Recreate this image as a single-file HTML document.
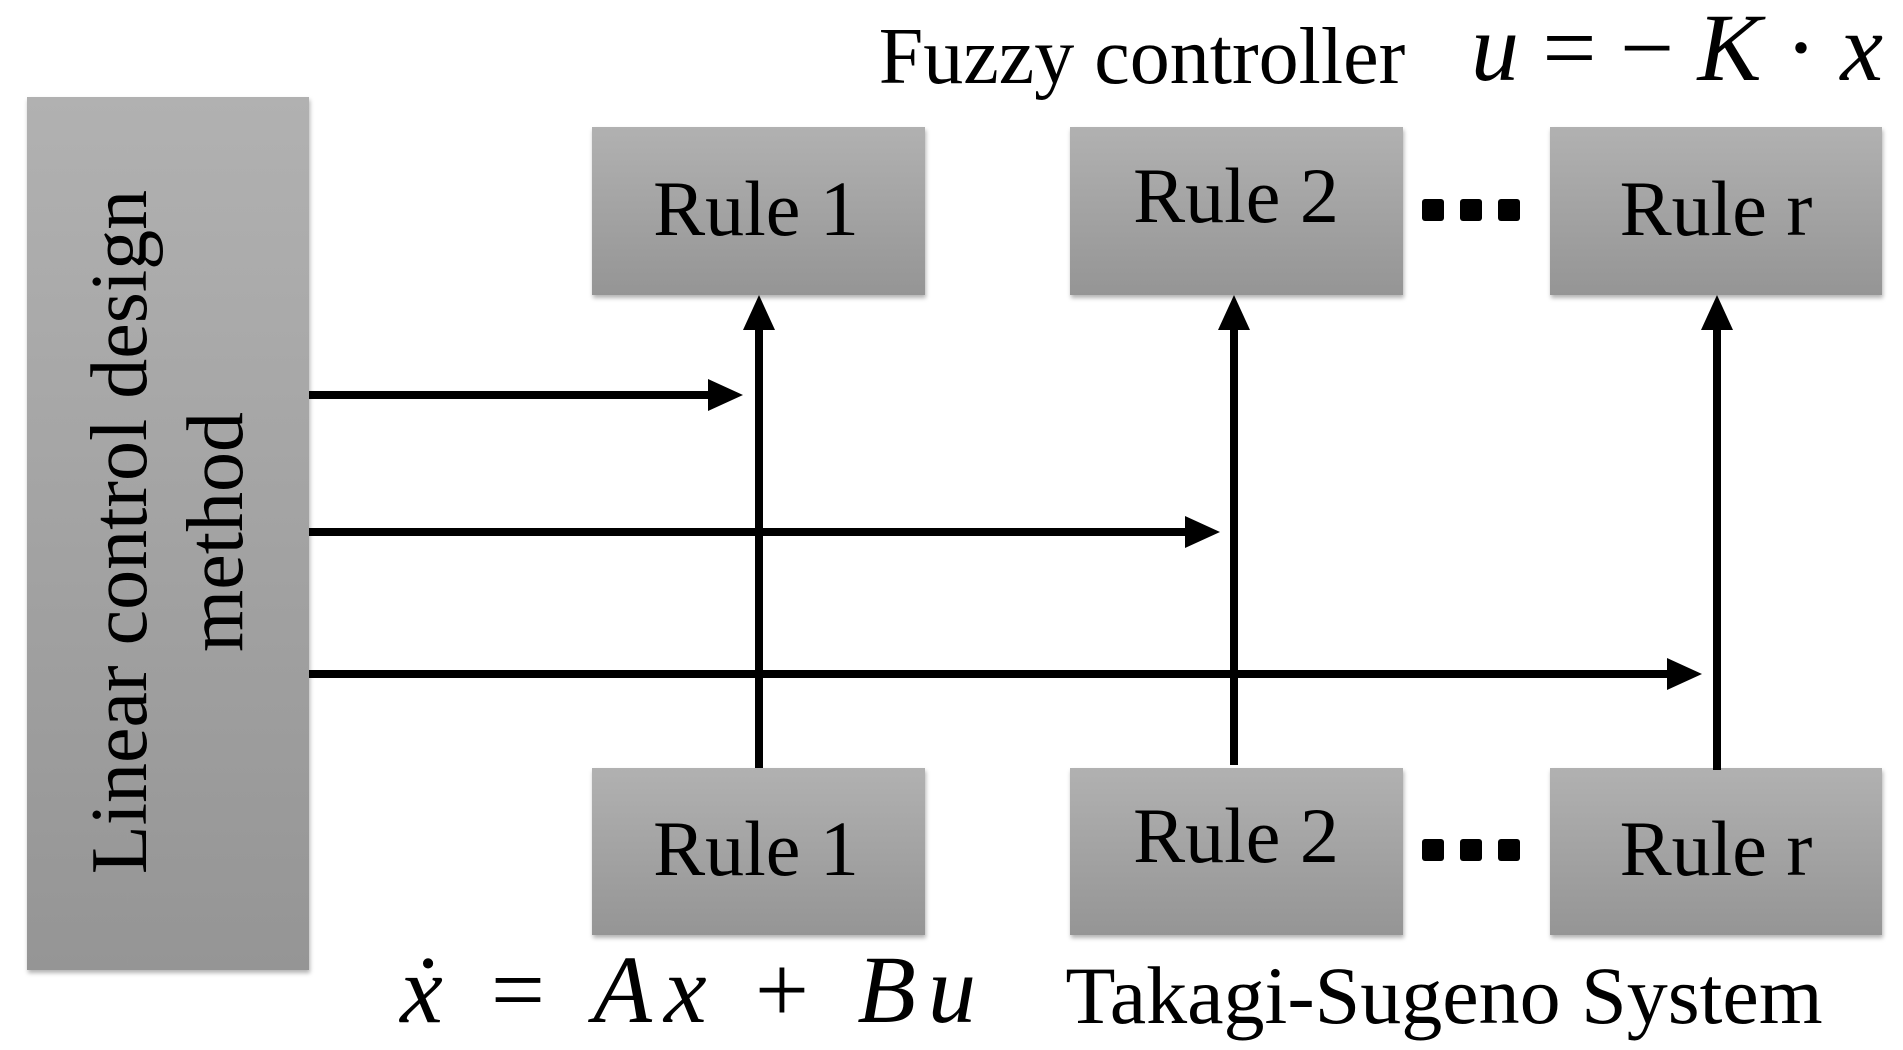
<!DOCTYPE html>
<html><head><meta charset="utf-8"><style>
html,body{margin:0;padding:0;background:#fff;width:1903px;height:1050px;overflow:hidden}
</style></head><body>
<svg width="1903" height="1050" viewBox="0 0 1903 1050" xmlns="http://www.w3.org/2000/svg">
<defs>
<linearGradient id="g" x1="0" y1="0" x2="0" y2="1"><stop offset="0" stop-color="#b1b1b1"/><stop offset="1" stop-color="#959595"/></linearGradient>
<filter id="s" x="-10%" y="-10%" width="120%" height="120%"><feDropShadow dx="1" dy="3" stdDeviation="2" flood-color="#000" flood-opacity="0.3"/></filter>
</defs>
<g fill="url(#g)" filter="url(#s)">
<rect x="27" y="97" width="282" height="873"/>
<rect x="592" y="127" width="333" height="168"/>
<rect x="1070" y="127" width="333" height="168"/>
<rect x="1550" y="127" width="332" height="168"/>
<rect x="592" y="768" width="333" height="167"/>
<rect x="1070" y="768" width="333" height="167"/>
<rect x="1550" y="768" width="332" height="167"/>
</g>
<g font-family="Liberation Serif, serif" font-size="78" fill="#000" text-anchor="middle">
<text x="756" y="235">Rule 1</text>
<text x="1236" y="222">Rule 2</text>
<text x="1716" y="235">Rule r</text>
<text x="756" y="875">Rule 1</text>
<text x="1236" y="862">Rule 2</text>
<text x="1716" y="875">Rule r</text>
<text transform="translate(146,532) rotate(-90)" font-size="80">Linear control design</text>
<text transform="translate(242,532) rotate(-90)" font-size="80">method</text>
<text x="1142" y="83" font-size="80">Fuzzy controller</text>
<text x="1444" y="1023" font-size="82">Takagi-Sugeno System</text>
</g>
<g font-family="Liberation Serif, serif" font-size="96" fill="#000">
<text x="1471" y="80" textLength="412" lengthAdjust="spacing"><tspan font-style="italic">u</tspan> = − <tspan font-style="italic">K</tspan> · <tspan font-style="italic">x</tspan></text>
<text x="400" y="1022" textLength="576" lengthAdjust="spacing"><tspan font-style="italic">ẋ</tspan> = <tspan font-style="italic">Ax</tspan> + <tspan font-style="italic">Bu</tspan></text>
</g>
<g stroke="#000" stroke-width="8">
<line x1="759" y1="768" x2="759" y2="325"/>
<line x1="1234" y1="765" x2="1234" y2="325"/>
<line x1="1717" y1="770" x2="1717" y2="325"/>
<line x1="309" y1="395" x2="715" y2="395"/>
<line x1="309" y1="532" x2="1192" y2="532"/>
<line x1="309" y1="674" x2="1674" y2="674"/>
</g>
<g fill="#000">
<polygon points="759,295 743,330 775,330"/>
<polygon points="1234,295 1218,330 1250,330"/>
<polygon points="1717,295 1701,330 1733,330"/>
<polygon points="743,395 708,379 708,411"/>
<polygon points="1220,532 1185,516 1185,548"/>
<polygon points="1702,674 1667,658 1667,690"/>
<rect x="1422" y="199" width="22" height="22" rx="3"/><rect x="1460" y="199" width="22" height="22" rx="3"/><rect x="1498" y="199" width="22" height="22" rx="3"/>
<rect x="1422" y="839" width="22" height="22" rx="3"/><rect x="1460" y="839" width="22" height="22" rx="3"/><rect x="1498" y="839" width="22" height="22" rx="3"/>
</g>
</svg>
</body></html>
